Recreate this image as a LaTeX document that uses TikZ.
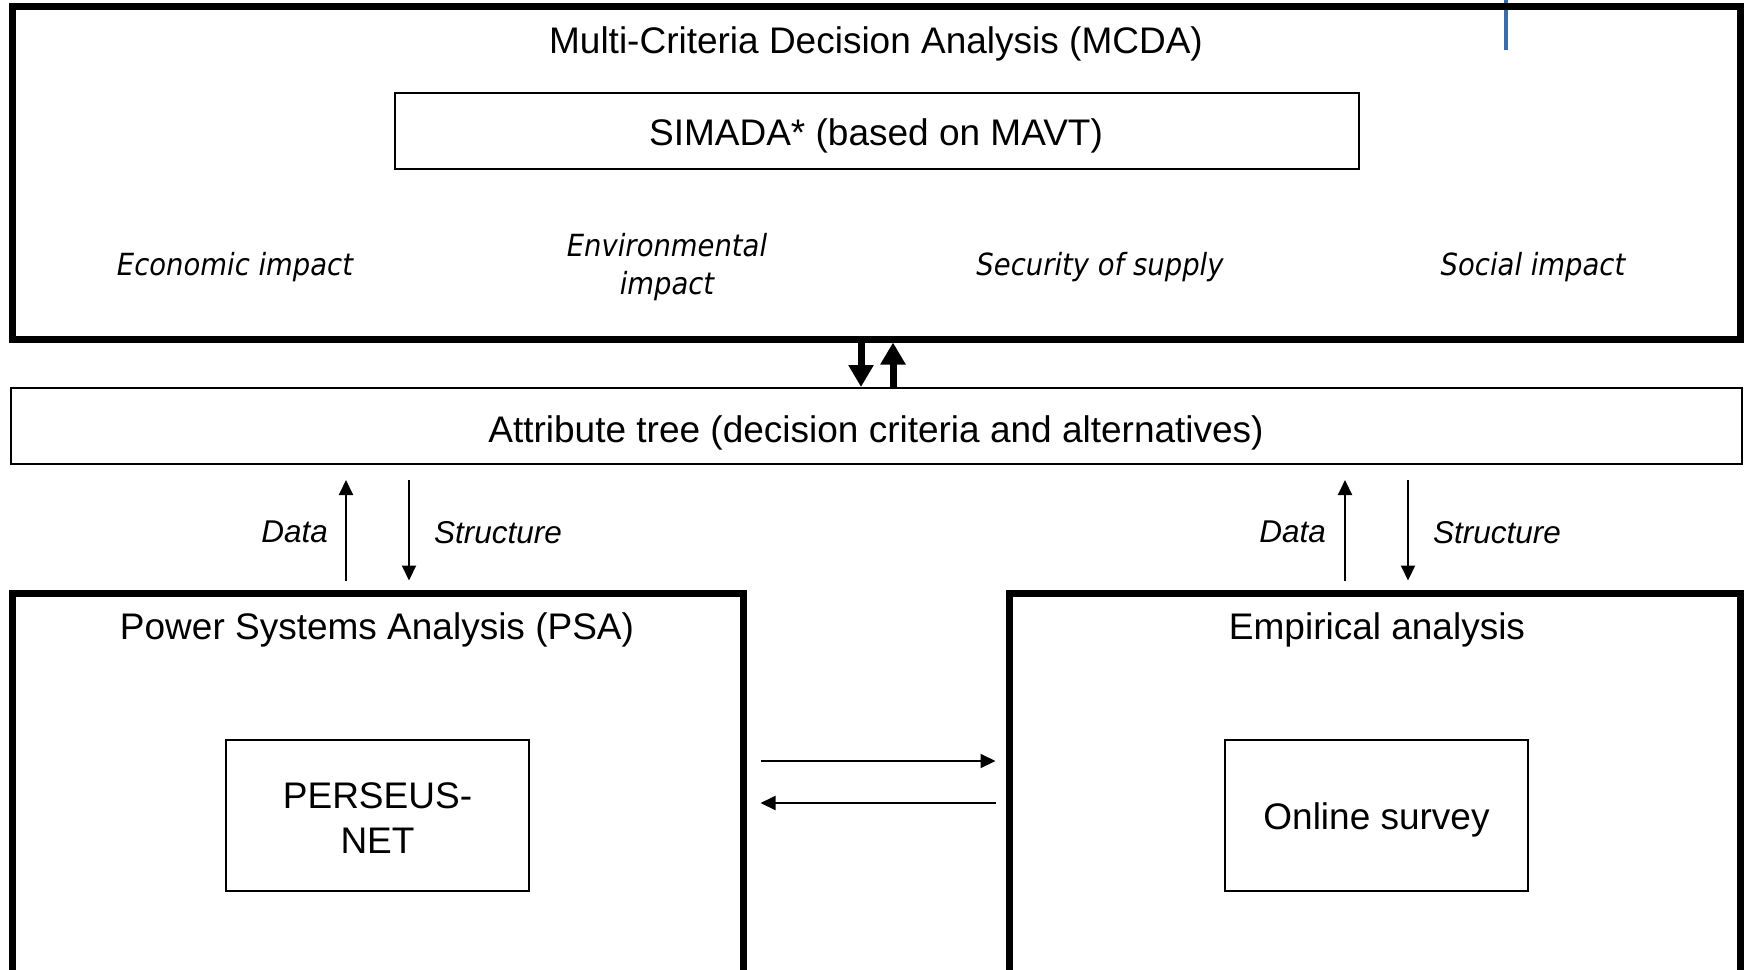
\documentclass[tikz,border=0pt]{standalone}
\usepackage{fontspec}
\setmainfont{Liberation Sans}
\newfontfamily\critfont[FakeStretch=0.9]{DejaVu Sans}
\usetikzlibrary{arrows.meta}
\definecolor{markblue}{RGB}{62,106,170}

\begin{document}
\begin{tikzpicture}[x=1pt, y=-1pt,
  every node/.style={font=\fontsize{37}{44}\selectfont},
  bigbox/.style={draw, line width=7pt, inner sep=0pt},
  smallbox/.style={draw, line width=2pt, inner sep=0pt},
  crit/.style={font=\critfont\itshape\fontsize{30.5}{38}\selectfont, align=center},
  lbl/.style={font=\fontsize{31.5}{36}\selectfont\itshape, inner sep=0pt, yshift=-5pt},
  fat/.style={line width=7pt, -{Triangle[width=24pt,length=22pt]}},
  flow/.style={line width=2pt, -{Triangle[width=14pt,length=15pt]}}]
\clip (0,0) rectangle (1744,969);
\draw[line width=4pt, markblue] (1506,0) -- (1506,50);

\node[bigbox, minimum width=1728pt, minimum height=333pt] (mcda) at (876,172.5) {};
\node (mcdatitle) at (876,43.5) {Multi-Criteria Decision Analysis (MCDA)};
\node[smallbox, minimum width=964pt, minimum height=76pt] (simada) at (877,131) {};
\node (simadatext) at (876,136) {SIMADA* (based on MAVT)};
\node[crit] (econ) at (235,267) {Economic impact};
\node[crit] (env) at (667,267) {Environmental\\impact};
\node[crit] (sec) at (1100,267) {Security of supply};
\node[crit] (soc) at (1533,267) {Social impact};

\node[smallbox, minimum width=1731pt, minimum height=76pt] (attr) at (876.5,426) {};
\node (attrtext) at (876,433) {Attribute tree (decision criteria and alternatives)};

%%%%%%%%%%%%%%%%%%%%%%%%%%%%%%%%%%%%%%%%

\node[bigbox, minimum width=731pt, minimum height=407pt] (psa) at (377.5,796.5) {};
\node (psatitle) at (377,630) {Power Systems Analysis (PSA)};
\node[smallbox, minimum width=303pt, minimum height=151pt] (perseus) at (377.5,815.5) {};
\node[align=center, font=\fontsize{37}{45}\selectfont] (perseustext) at (377.5,818.5) {PERSEUS-\\NET};

\node[bigbox, minimum width=731pt, minimum height=407pt] (emp) at (1374.5,796.5) {};
\node (emptitle) at (1377,630) {Empirical analysis};
\node[smallbox, minimum width=303pt, minimum height=151pt] (survey) at (1376.5,815.5) {};
\node (surveytext) at (1376.5,819.5) {Online survey};

%%%%%%%%%%%%%%%%%%%%%%%%%%%%%%%%%%%%%%%%

\path (861,0) coordinate (dn) (893,0) coordinate (up);
\draw[fat] (mcda.south -| dn) -- (attr.north -| dn);
\draw[fat] (attr.north -| up) -- (mcda.south -| up);

\path (346,0) coordinate (dataL) (409,0) coordinate (strL)
      (1345,0) coordinate (dataR) (1408,0) coordinate (strR);
\draw[flow, shorten <=9pt, shorten >=15pt] (psa.north -| dataL) -- (attr.south -| dataL) node[midway, left=17pt, lbl]{Data};
\draw[flow, shorten <=15pt, shorten >=9pt] (attr.south -| strL) -- (psa.north -| strL) node[midway, right=24pt, lbl]{Structure};
\draw[flow, shorten <=9pt, shorten >=15pt] (emp.north -| dataR) -- (attr.south -| dataR) node[midway, left=18pt, lbl]{Data};
\draw[flow, shorten <=15pt, shorten >=9pt] (attr.south -| strR) -- (emp.north -| strR) node[midway, right=24pt, lbl]{Structure};

\path (0,761) coordinate (fwd) (0,803) coordinate (back);
\draw[flow, shorten <=14pt, shorten >=10pt] (psa.east |- fwd) -- (emp.west |- fwd);
\draw[flow, shorten <=10pt, shorten >=14pt] (emp.west |- back) -- (psa.east |- back);

\end{tikzpicture}
\end{document}
